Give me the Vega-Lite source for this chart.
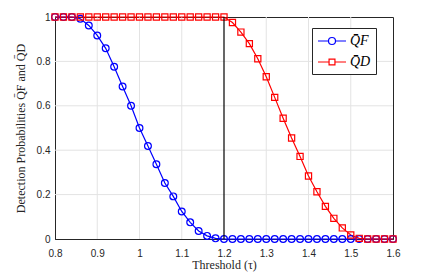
{
  "$schema": "https://vega.github.io/schema/vega-lite/v6.json",
  "width": 338,
  "height": 222,
  "autosize": {"type": "none"},
  "padding": {"left": 55, "top": 17, "right": 43, "bottom": 34},
  "background": "white",
  "config": {
    "view": {"stroke": "#262626", "strokeWidth": 1},
    "axis": {
      "domainColor": "#262626",
      "tickColor": "#262626",
      "labelFont": "Liberation Sans",
      "labelFontSize": 10,
      "labelColor": "#262626",
      "labelFlush": false,
      "titleFont": "Liberation Serif",
      "titleFontWeight": "normal",
      "titleFontSize": 12,
      "titleColor": "#262626"
    }
  },
  "datasets": {
    "d": [
      {"x":0.8,"v":1,"s":"F"},{"x":0.82,"v":1,"s":"F"},{"x":0.84,"v":1,"s":"F"},{"x":0.86,"v":0.992,"s":"F"},{"x":0.88,"v":0.962,"s":"F"},{"x":0.9,"v":0.917,"s":"F"},{"x":0.92,"v":0.859,"s":"F"},{"x":0.94,"v":0.776,"s":"F"},{"x":0.96,"v":0.687,"s":"F"},{"x":0.98,"v":0.6,"s":"F"},{"x":1.0,"v":0.5,"s":"F"},{"x":1.02,"v":0.419,"s":"F"},{"x":1.04,"v":0.337,"s":"F"},{"x":1.06,"v":0.252,"s":"F"},{"x":1.08,"v":0.192,"s":"F"},{"x":1.1,"v":0.124,"s":"F"},{"x":1.12,"v":0.075,"s":"F"},{"x":1.14,"v":0.036,"s":"F"},{"x":1.16,"v":0.014,"s":"F"},{"x":1.18,"v":0.003,"s":"F"},{"x":1.2,"v":0,"s":"F"},
      {"x":1.22,"v":0,"s":"F"},{"x":1.24,"v":0,"s":"F"},{"x":1.26,"v":0,"s":"F"},{"x":1.28,"v":0,"s":"F"},{"x":1.3,"v":0,"s":"F"},{"x":1.32,"v":0,"s":"F"},{"x":1.34,"v":0,"s":"F"},{"x":1.36,"v":0,"s":"F"},{"x":1.38,"v":0,"s":"F"},{"x":1.4,"v":0,"s":"F"},{"x":1.42,"v":0,"s":"F"},{"x":1.44,"v":0,"s":"F"},{"x":1.46,"v":0,"s":"F"},{"x":1.48,"v":0,"s":"F"},{"x":1.5,"v":0,"s":"F"},{"x":1.52,"v":0,"s":"F"},{"x":1.54,"v":0,"s":"F"},{"x":1.56,"v":0,"s":"F"},{"x":1.58,"v":0,"s":"F"},{"x":1.6,"v":0,"s":"F"},
      {"x":0.8,"v":1,"s":"D"},{"x":0.82,"v":1,"s":"D"},{"x":0.84,"v":1,"s":"D"},{"x":0.86,"v":1,"s":"D"},{"x":0.88,"v":1,"s":"D"},{"x":0.9,"v":1,"s":"D"},{"x":0.92,"v":1,"s":"D"},{"x":0.94,"v":1,"s":"D"},{"x":0.96,"v":1,"s":"D"},{"x":0.98,"v":1,"s":"D"},{"x":1.0,"v":1,"s":"D"},{"x":1.02,"v":1,"s":"D"},{"x":1.04,"v":1,"s":"D"},{"x":1.06,"v":1,"s":"D"},{"x":1.08,"v":1,"s":"D"},{"x":1.1,"v":1,"s":"D"},{"x":1.12,"v":1,"s":"D"},{"x":1.14,"v":1,"s":"D"},{"x":1.16,"v":1,"s":"D"},{"x":1.18,"v":1,"s":"D"},{"x":1.2,"v":1,"s":"D"},
      {"x":1.22,"v":0.975,"s":"D"},{"x":1.24,"v":0.932,"s":"D"},{"x":1.26,"v":0.88,"s":"D"},{"x":1.28,"v":0.812,"s":"D"},{"x":1.3,"v":0.731,"s":"D"},{"x":1.32,"v":0.638,"s":"D"},{"x":1.34,"v":0.544,"s":"D"},{"x":1.36,"v":0.455,"s":"D"},{"x":1.38,"v":0.372,"s":"D"},{"x":1.4,"v":0.284,"s":"D"},{"x":1.42,"v":0.213,"s":"D"},{"x":1.44,"v":0.147,"s":"D"},{"x":1.46,"v":0.093,"s":"D"},{"x":1.48,"v":0.05,"s":"D"},{"x":1.5,"v":0.018,"s":"D"},{"x":1.52,"v":0.003,"s":"D"},{"x":1.54,"v":0,"s":"D"},{"x":1.56,"v":0,"s":"D"},{"x":1.58,"v":0,"s":"D"},{"x":1.6,"v":0,"s":"D"}
    ],
    "r": [{"t": 1.2}],
    "gx": [{"g": 0.9}, {"g": 1.0}, {"g": 1.1}, {"g": 1.3}, {"g": 1.4}, {"g": 1.5}],
    "gy": [{"g": 0.2}, {"g": 0.4}, {"g": 0.6}, {"g": 0.8}]
  },
  "layer": [
    {
      "data": {"name": "gx"},
      "mark": {"type": "rule", "color": "#e3e3e3", "strokeWidth": 1},
      "encoding": {"x": {"field": "g", "type": "quantitative"}}
    },
    {
      "data": {"name": "gy"},
      "mark": {"type": "rule", "color": "#e3e3e3", "strokeWidth": 1},
      "encoding": {"y": {"field": "g", "type": "quantitative"}}
    },
    {
      "data": {"name": "d"},
      "mark": {"type": "line", "strokeWidth": 1.2},
      "encoding": {
        "x": {
          "field": "x", "type": "quantitative",
          "scale": {"domain": [0.8, 1.6], "nice": false, "zero": false},
          "axis": {"values": [0.8, 0.9, 1.0, 1.1, 1.2, 1.3, 1.4, 1.5, 1.6], "format": "~f", "grid": false, "tickSize": 0, "labelPadding": 9, "title": "Threshold (τ)", "titlePadding": 1}
        },
        "y": {
          "field": "v", "type": "quantitative",
          "scale": {"domain": [0, 1], "nice": false},
          "axis": {"values": [0, 0.2, 0.4, 0.6, 0.8, 1], "format": "~f", "grid": false, "tickSize": 0, "labelPadding": 5, "title": "Detection Probabilities Q̄F and Q̄D", "titlePadding": 9}
        },
        "color": {"field": "s", "type": "nominal", "scale": {"domain": ["F", "D"], "range": ["#0000ff", "#ff0000"]},
          "legend": {"title": null, "orient": "none", "legendX": 257, "legendY": 11, "fillColor": "white", "strokeColor": "#262626", "padding": 5, "symbolSize": 196, "symbolOffset": 7, "symbolStrokeWidth": 1.2, "labelFont": "Liberation Serif", "labelFontSize": 14, "labelFontStyle": "italic", "labelColor": "black", "rowPadding": 6, "labelOffset": 10, "labelExpr": "datum.label == 'F' ? 'Q̄F' : 'Q̄D'",
            "encode": {"symbols": {"update": {"shape": {"signal": "datum.value == 'F' ? 'M-2,0H-0.5M0.5,0H2M0.5,0A0.5,0.5,0,1,1,-0.5,0A0.5,0.5,0,1,1,0.5,0' : 'M-2,0H-0.42M0.42,0H2M-0.42,-0.42H0.42V0.42H-0.42Z'"}, "fill": {"value": "transparent"}}}}}}
      }
    },
    {
      "data": {"name": "d"},
      "transform": [{"filter": "datum.s == 'F'"}],
      "mark": {"type": "point", "shape": "circle", "filled": false, "size": 46, "strokeWidth": 1.2, "opacity": 1},
      "encoding": {
        "x": {"field": "x", "type": "quantitative"},
        "y": {"field": "v", "type": "quantitative"},
        "color": {"field": "s", "type": "nominal"}
      }
    },
    {
      "data": {"name": "d"},
      "transform": [{"filter": "datum.s == 'D'"}],
      "mark": {"type": "point", "shape": "square", "filled": false, "size": 38, "strokeWidth": 1.2, "opacity": 1},
      "encoding": {
        "x": {"field": "x", "type": "quantitative"},
        "y": {"field": "v", "type": "quantitative"},
        "color": {"field": "s", "type": "nominal"}
      }
    },
    {
      "data": {"name": "r"},
      "mark": {"type": "rule", "color": "black", "strokeWidth": 1.2},
      "encoding": {"x": {"field": "t", "type": "quantitative"}}
    }
  ]
}
